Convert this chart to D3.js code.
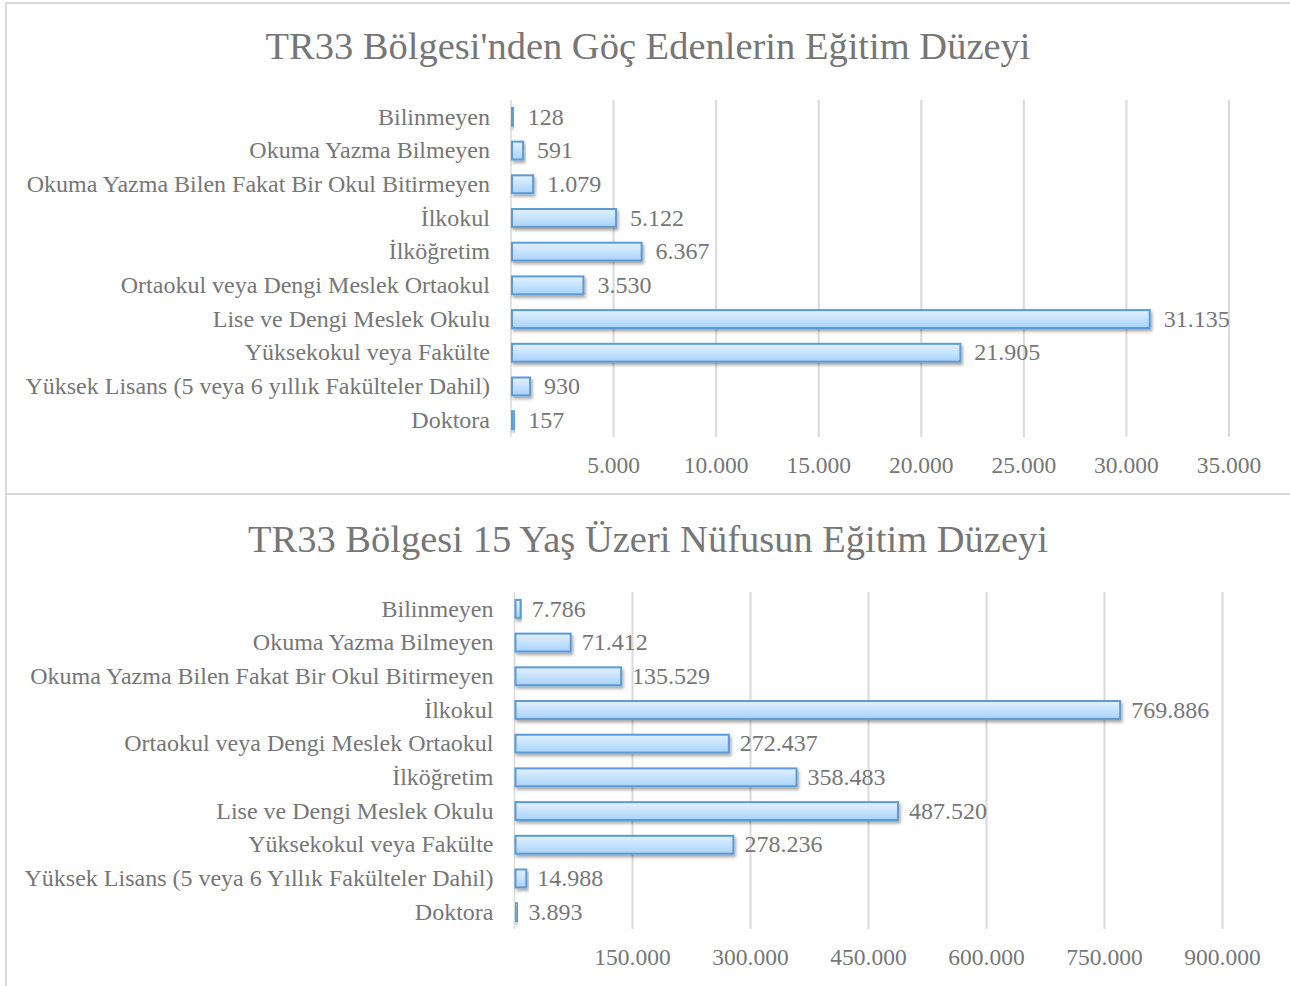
<!DOCTYPE html>
<html>
<head>
<meta charset="utf-8">
<script src="https://cdn.jsdelivr.net/npm/d3@7"></script>
<style>
  body { margin: 0; background: #fff; }
  svg { display: block; }
</style>
</head>
<body>
<svg id="chart" width="1290" height="986"></svg>
<script>
// top chart: migrants from TR33 by education
var migTitle = "TR33 Bölgesi'nden Göç Edenlerin Eğitim Düzeyi";
var migCategories = ["Bilinmeyen", "Okuma Yazma Bilmeyen", "Okuma Yazma Bilen Fakat Bir Okul Bitirmeyen",
  "İlkokul", "İlköğretim", "Ortaokul veya Dengi Meslek Ortaokul", "Lise ve Dengi Meslek Okulu",
  "Yüksekokul veya Fakülte", "Yüksek Lisans (5 veya 6 yıllık Fakülteler Dahil)", "Doktora"];
var migValues = [128, 591, 1079, 5122, 6367, 3530, 31135, 21905, 930, 157];
var migTicks = [5000, 10000, 15000, 20000, 25000, 30000, 35000];

// bottom chart: population 15+ by education
var popTitle = "TR33 Bölgesi 15 Yaş Üzeri Nüfusun Eğitim Düzeyi";
var popCategories = ["Bilinmeyen", "Okuma Yazma Bilmeyen", "Okuma Yazma Bilen Fakat Bir Okul Bitirmeyen",
  "İlkokul", "Ortaokul veya Dengi Meslek Ortaokul", "İlköğretim", "Lise ve Dengi Meslek Okulu",
  "Yüksekokul veya Fakülte", "Yüksek Lisans (5 veya 6 Yıllık Fakülteler Dahil)", "Doktora"];
var popValues = [7786, 71412, 135529, 769886, 272437, 358483, 487520, 278236, 14988, 3893];
var popTicks = [150000, 300000, 450000, 600000, 750000, 900000];

var FONT = "'Liberation Serif', Tinos, 'Times New Roman', 'DejaVu Serif', serif";
var INK = "#767676";

var svg = d3.select("#chart");
var fmt = function (v) { return d3.format(",")(v).replace(/,/g, "."); };

var defs = svg.append("defs");
var grad = defs.append("linearGradient")
  .attr("id", "bar-grad")
  .attr("x1", 0).attr("y1", 0).attr("x2", 0).attr("y2", 1);
grad.append("stop").attr("offset", "0%").attr("stop-color", "#e3f1ff");
grad.append("stop").attr("offset", "100%").attr("stop-color", "#a9d3fa");

var shadow = defs.append("filter")
  .attr("id", "bar-shadow")
  .attr("x", "-20%").attr("y", "-50%").attr("width", "140%").attr("height", "200%");
shadow.append("feDropShadow")
  .attr("dx", 1.5).attr("dy", 2.5).attr("stdDeviation", 1.8)
  .attr("flood-color", "#000").attr("flood-opacity", 0.35);

// frames
svg.append("rect")
  .attr("x", 6).attr("y", 3).attr("width", 1300).attr("height", 491)
  .style("fill", "none").style("stroke", "#d9d9d9").style("stroke-width", 2);
svg.append("rect")
  .attr("x", 6).attr("y", 494).attr("width", 1300).attr("height", 500)
  .style("fill", "none").style("stroke", "#d9d9d9").style("stroke-width", 2);

function drawChart(opt) {
  var g = svg.append("g")
    .attr("font-family", FONT)
    .attr("fill", INK);

  var x = d3.scaleLinear().domain([0, opt.max]).range([opt.x0, opt.x1]);
  var y = d3.scaleBand().domain(opt.categories).range([opt.y0, opt.y1]).paddingInner(0.47).paddingOuter(0.235);

  g.append("text")
    .attr("x", 648).attr("y", opt.titleY)
    .attr("text-anchor", "middle")
    .attr("font-size", 38.5)
    .text(opt.title);

  // grid
  g.selectAll(".grid")
    .data(opt.ticks)
    .enter().append("line")
      .attr("x1", function (d) { return x(d); })
      .attr("x2", function (d) { return x(d); })
      .attr("y1", opt.y0).attr("y2", opt.y1)
      .style("stroke", "#d9d9d9").style("stroke-width", 2);

  g.append("line")
    .attr("x1", x(0)).attr("x2", x(0))
    .attr("y1", opt.y0).attr("y2", opt.y1)
    .style("stroke", "#d9d9d9").style("stroke-width", 1.5);

  // tick labels
  g.selectAll(".tick-label")
    .data(opt.ticks)
    .enter().append("text")
      .attr("x", function (d) { return x(d); })
      .attr("y", opt.y1 + 36)
      .attr("text-anchor", "middle")
      .attr("font-size", 23.5)
      .text(fmt);

  // category labels
  g.selectAll(".cat")
    .data(opt.categories)
    .enter().append("text")
      .attr("x", opt.x0 - 21)
      .attr("y", function (d) { return y(d) + y.bandwidth() / 2; })
      .attr("dy", "0.32em")
      .attr("text-anchor", "end")
      .attr("font-size", 24)
      .text(function (d) { return d; });

  // bars
  g.selectAll(".bar")
    .data(opt.values)
    .enter().append("rect")
      .attr("x", x(0) + 1)
      .attr("y", function (d, i) { return y(opt.categories[i]); })
      .attr("width", function (d) { return Math.max(x(d) - x(0) - 1, 1); })
      .attr("height", y.bandwidth())
      .style("fill", "url(#bar-grad)")
      .style("stroke", "#5b9bd5")
      .style("stroke-width", 2)
      .attr("filter", "url(#bar-shadow)");

  // data labels
  g.selectAll(".val")
    .data(opt.values)
    .enter().append("text")
      .attr("x", function (d) { return x(d) + opt.labelGap; })
      .attr("y", function (d, i) { return y(opt.categories[i]) + y.bandwidth() / 2; })
      .attr("dy", "0.32em")
      .attr("font-size", 24)
      .text(fmt);
}

drawChart({
  title: migTitle, categories: migCategories, values: migValues, ticks: migTicks,
  max: 35000, x0: 511, x1: 1229, y0: 100, y1: 437, titleY: 59, labelGap: 14
});

drawChart({
  title: popTitle, categories: popCategories, values: popValues, ticks: popTicks,
  max: 900000, x0: 514.5, x1: 1222.5, y0: 592, y1: 929, titleY: 552, labelGap: 11
});
</script>
</body>
</html>
